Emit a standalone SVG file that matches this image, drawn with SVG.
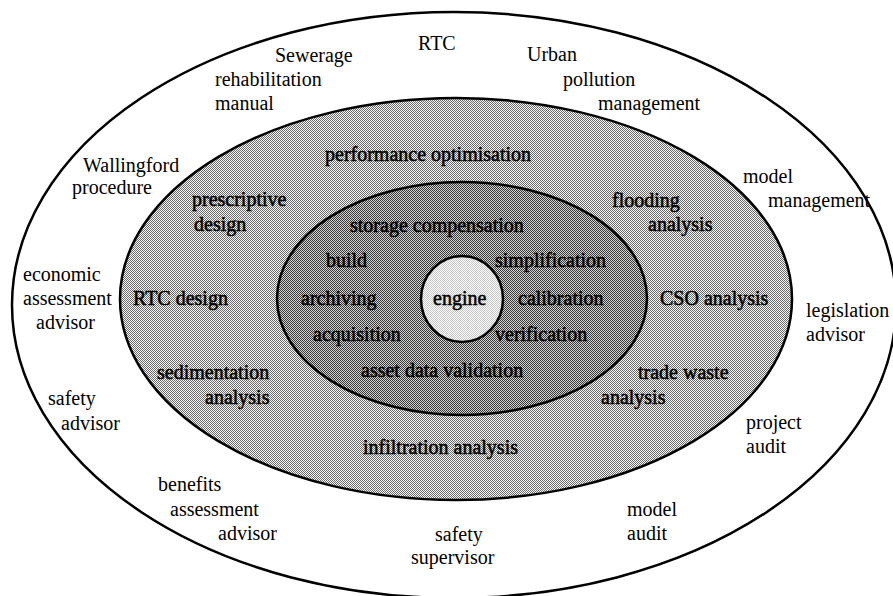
<svg xmlns="http://www.w3.org/2000/svg" width="893" height="596" viewBox="0 0 893 596">
  <defs>
    <pattern id="pLight" width="2" height="2" patternUnits="userSpaceOnUse">
      <rect width="2" height="2" fill="#f8f8f8"/>
      <rect x="0" y="0" width="1" height="1" fill="#6a6a6a"/>
      <rect x="1" y="1" width="1" height="1" fill="#6a6a6a"/>
    </pattern>
    <pattern id="pDark" width="2" height="2" patternUnits="userSpaceOnUse">
      <rect width="2" height="2" fill="#d4d4d4"/>
      <rect x="0" y="0" width="1" height="1" fill="#363636"/>
      <rect x="1" y="1" width="1" height="1" fill="#363636"/>
    </pattern>
    <pattern id="pEngine" width="2" height="2" patternUnits="userSpaceOnUse">
      <rect width="2" height="2" fill="#ffffff"/>
      <rect x="0" y="0" width="1" height="1" fill="#c4c4c4"/>
      <rect x="1" y="1" width="1" height="1" fill="#c4c4c4"/>
    </pattern>
  </defs>
  <style>
    .ring { stroke: #000; stroke-width: 2.5; }
    text { font-family: "Liberation Serif", "Times New Roman", serif; font-size: 20px; fill: #000; }
    .in { stroke: #000; stroke-width: 0.5; }
  </style>
  <rect width="893" height="596" fill="#fff"/>

  <g id="rings">
    <ellipse id="outer" class="ring" cx="454" cy="305" rx="442" ry="293" fill="#fff"/>
    <ellipse id="middle" class="ring" cx="456" cy="299" rx="336" ry="201" fill="url(#pLight)"/>
    <ellipse id="inner" class="ring" cx="462" cy="298.5" rx="185" ry="116.5" fill="url(#pDark)"/>
    <ellipse id="core" class="ring" cx="462" cy="299" rx="41" ry="43" fill="url(#pEngine)"/>
  </g>

  <!-- outer ring labels -->
  <g id="rtc"><text x="418" y="50">RTC</text></g>
  <g id="sewerage-rehabilitation-manual">
    <text x="275" y="62">Sewerage</text>
    <text x="215" y="86">rehabilitation</text>
    <text x="215" y="110">manual</text>
  </g>
  <g id="urban-pollution-management">
    <text x="527" y="61">Urban</text>
    <text x="563" y="86">pollution</text>
    <text x="598" y="110">management</text>
  </g>
  <g id="wallingford-procedure">
    <text x="83" y="172">Wallingford</text>
    <text x="72" y="194">procedure</text>
  </g>
  <g id="model-management">
    <text x="743" y="183">model</text>
    <text x="768" y="207">management</text>
  </g>
  <g id="economic-assessment-advisor">
    <text x="23" y="281">economic</text>
    <text x="23" y="305">assessment</text>
    <text x="36" y="329">advisor</text>
  </g>
  <g id="legislation-advisor">
    <text x="806" y="317">legislation</text>
    <text x="806" y="341">advisor</text>
  </g>
  <g id="safety-advisor">
    <text x="48" y="405">safety</text>
    <text x="61" y="430">advisor</text>
  </g>
  <g id="project-audit">
    <text x="746" y="429">project</text>
    <text x="746" y="453">audit</text>
  </g>
  <g id="benefits-assessment-advisor">
    <text x="158" y="491">benefits</text>
    <text x="170" y="516">assessment</text>
    <text x="218" y="540">advisor</text>
  </g>
  <g id="model-audit">
    <text x="627" y="516">model</text>
    <text x="627" y="540">audit</text>
  </g>
  <g id="safety-supervisor">
    <text x="435" y="541">safety</text>
    <text x="411" y="564">supervisor</text>
  </g>

  <!-- middle ring labels -->
  <g id="performance-optimisation"><text class="in" x="325" y="161">performance optimisation</text></g>
  <g id="prescriptive-design">
    <text class="in" x="192" y="206">prescriptive</text>
    <text class="in" x="194" y="231">design</text>
  </g>
  <g id="flooding-analysis">
    <text class="in" x="612" y="207">flooding</text>
    <text class="in" x="648" y="231">analysis</text>
  </g>
  <g id="rtc-design"><text class="in" x="133" y="305">RTC design</text></g>
  <g id="cso-analysis"><text class="in" x="660" y="305">CSO analysis</text></g>
  <g id="sedimentation-analysis">
    <text class="in" x="157" y="379">sedimentation</text>
    <text class="in" x="205" y="404">analysis</text>
  </g>
  <g id="trade-waste-analysis">
    <text class="in" x="638" y="379">trade waste</text>
    <text class="in" x="601" y="404">analysis</text>
  </g>
  <g id="infiltration-analysis"><text class="in" x="363" y="454">infiltration analysis</text></g>

  <!-- inner ring labels -->
  <g id="storage-compensation"><text class="in" x="350" y="232">storage compensation</text></g>
  <g id="build"><text class="in" x="326" y="267">build</text></g>
  <g id="simplification"><text class="in" x="495" y="267">simplification</text></g>
  <g id="archiving"><text class="in" x="301" y="305">archiving</text></g>
  <g id="calibration"><text class="in" x="518" y="305">calibration</text></g>
  <g id="acquisition"><text class="in" x="313" y="341">acquisition</text></g>
  <g id="verification"><text class="in" x="495" y="341">verification</text></g>
  <g id="asset-data-validation"><text class="in" x="361" y="377">asset data validation</text></g>

  <!-- core -->
  <g id="engine"><text class="in" x="433" y="305">engine</text></g>
</svg>
